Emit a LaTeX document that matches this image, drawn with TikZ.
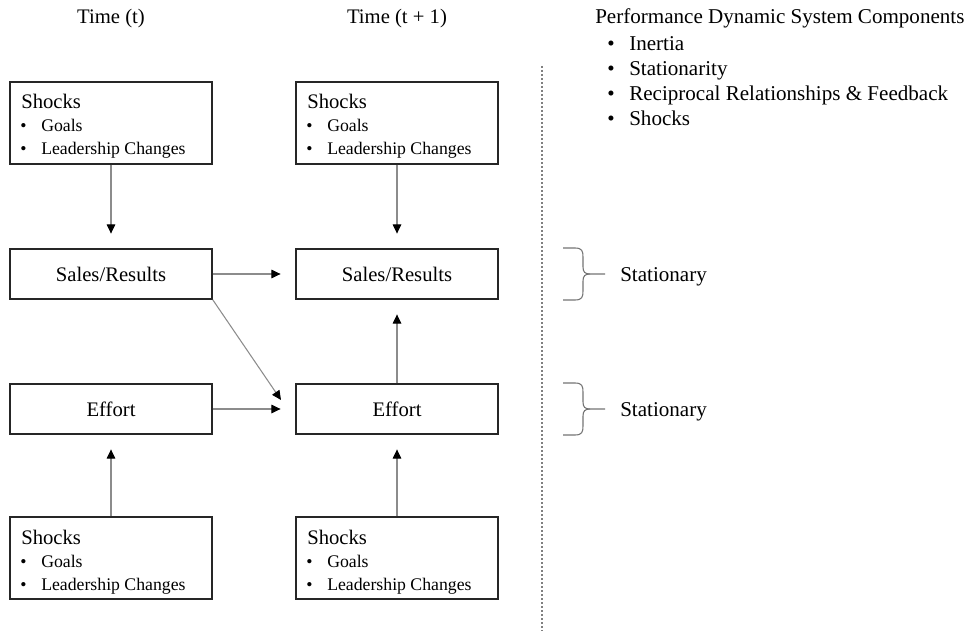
\documentclass[tikz,border=0pt]{standalone}
\usepackage{fontspec}
\setmainfont{Liberation Serif}
\usetikzlibrary{arrows.meta}
\begin{document}
\begin{tikzpicture}[x=0.75pt,y=-0.75pt,
  box/.style={draw=black!85,line width=1.1pt,minimum width=151.5pt,inner sep=0pt},
  head/.style={font=\fontsize{15.5pt}{18pt}\selectfont,inner sep=0pt},
  item/.style={font=\fontsize{13.3pt}{16pt}\selectfont,inner sep=0pt,anchor=base west},
  rtext/.style={font=\fontsize{15.8pt}{19pt}\selectfont,inner sep=0pt,anchor=base west},
  conn/.style={draw=black!45,line width=0.8pt,-{Triangle[length=7pt,width=6.5pt,black]},shorten >=11pt},
  brace/.style={draw=black!55,line width=0.8pt}]
\useasboundingbox (0,0) rectangle (970,631);
% headers
\node[head,anchor=base] (ht) at (111,24) {Time (t)};
\node[head,anchor=base] (ht1) at (397,24) {Time (t + 1)};
% boxes
\foreach \n/\x in {l/111,m/397}{
  \node[box,minimum height=61.5pt] (s1\n) at (\x,123) {};
  \node[box,minimum height=37.5pt,head] (sr\n) at (\x,274) {Sales/Results};
  \node[box,minimum height=37.5pt,head] (ef\n) at (\x,409) {Effort};
  \node[box,minimum height=61.5pt] (s2\n) at (\x,558) {};
}
\foreach \n/\dx in {l/0,m/286}{
  \foreach \b/\dy in {a/0,b/435}{
    \node[head,anchor=base west] (t\n\b) at (21+\dx,109+\dy) {Shocks};
    \node[item] (bg\n\b) at (20+\dx,132+\dy) {•};
    \node[item] (g\n\b) at (41+\dx,132+\dy) {Goals};
    \node[item] (bl\n\b) at (20+\dx,155+\dy) {•};
    \node[item] (c\n\b) at (41+\dx,155+\dy) {Leadership Changes};
  }
}
% connectors
\coordinate (dg) at (281,400);
\draw[conn] (s1l.south) -- (srl.north);
\draw[conn] (s1m.south) -- (srm.north);
\draw[conn] (srl.east) -- (srm.west);
\draw[conn,shorten >=0pt] (srl.south east) -- (dg);
\draw[conn] (efl.east) -- (efm.west);
\draw[conn] (efm.north) -- (srm.south);
\draw[conn] (s2l.north) -- (efl.south);
\draw[conn] (s2m.north) -- (efm.south);
% divider
\coordinate (dvt) at (542,66);
\coordinate (dvb) at (542,631);
\draw[black!50,line width=0.8pt,dash pattern=on 1.5pt off 1.5pt] (dvt) -- (dvb);
% right text
\node[rtext] (title) at (595,24) {Performance Dynamic System Components};
\foreach \t/\yy [count=\i] in {Inertia/51,Stationarity/76,{Reciprocal Relationships \& Feedback}/101,Shocks/126}{
  \node[rtext] (rb\i) at (607,\yy) {•};
  \node[rtext] (ri\i) at (629,\yy) {\t};
}
% braces
\foreach \yc/\k in {274/1,409/2}{
  \draw[brace] (563,\yc-26) -- (575,\yc-26) .. controls (582,\yc-26) and (583,\yc-23) .. (583,\yc-17)
     -- (583,\yc-7) .. controls (583,\yc-2) and (585,\yc) .. (590,\yc) -- (605,\yc);
  \draw[brace] (563,\yc+26) -- (575,\yc+26) .. controls (582,\yc+26) and (583,\yc+23) .. (583,\yc+17)
     -- (583,\yc+7) .. controls (583,\yc+2) and (585,\yc) .. (590,\yc);
  \node[rtext] (st\k) at (620,\yc+7) {Stationary};
}
\end{tikzpicture}
\end{document}
